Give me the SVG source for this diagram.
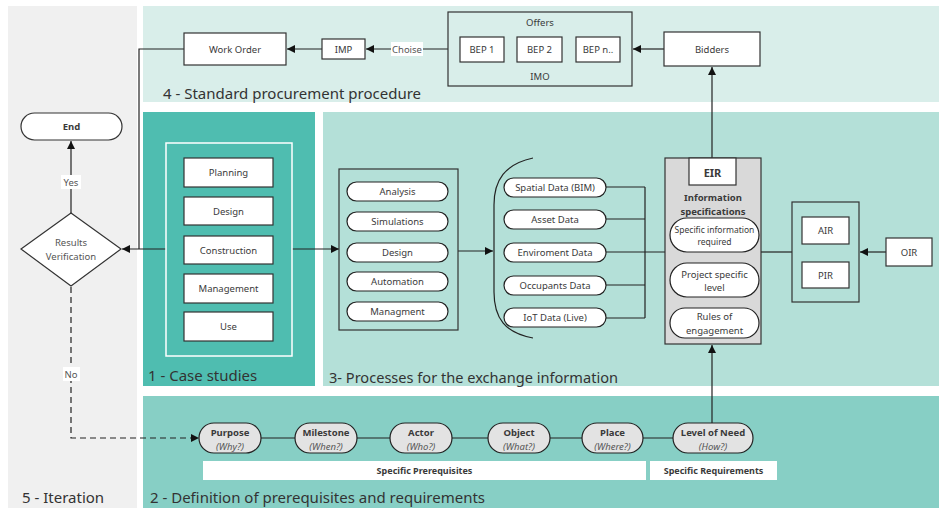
<svg xmlns="http://www.w3.org/2000/svg" width="939" height="508" viewBox="0 0 939 508">
  <defs>
    <marker id="arrow" viewBox="0 0 10 10" refX="10" refY="5" markerWidth="8" markerHeight="8" markerUnits="userSpaceOnUse" orient="auto">
      <path d="M0,0 L10,5 L0,10 z" fill="#111"/>
    </marker>
  </defs>
  <style>
    text { font-family: "Noto Sans", "Open Sans", sans-serif; fill: #3a3a3a; }
    .lbl { font-size: 9.5px; text-anchor: middle; dominant-baseline: central; }
    .b { font-weight: bold; }
    .it { font-style: italic; fill: #555; }
    .soft { fill: #555; }
    .title { font-size: 15px; fill: #333; dominant-baseline: central; }
    .box { fill: #fff; stroke: #333; stroke-width: 1.2; }
    .frame { fill: none; stroke: #333; stroke-width: 1.2; }
    .pill { fill: #fff; stroke: #222; stroke-width: 1.2; }
    .gpill { fill: #e3e3e3; stroke: #222; stroke-width: 1.2; }
    .wire { fill: none; stroke: #222; stroke-width: 1.2; }
    .dash { fill: none; stroke: #222; stroke-width: 1.2; stroke-dasharray: 6 4; }
  </style>

  <!-- background panels -->
  <rect x="0" y="0" width="939" height="508" fill="#fff"/>
  <rect id="panel-iteration" x="8" y="6" width="129" height="502" fill="#f0f0f0"/>
  <rect id="panel-procurement" x="143" y="6" width="796" height="96" fill="#d9eeea"/>
  <rect id="panel-cases" x="143" y="112" width="172" height="274" fill="#4fbdb0"/>
  <rect id="panel-processes" x="323" y="112" width="616" height="274" fill="#b4e0d8"/>
  <rect id="panel-prerequisites" x="143" y="396" width="796" height="112" fill="#87cfc5"/>

  <text class="title" x="163" y="93">4 - Standard procurement procedure</text>
  <text class="title" x="148" y="375">1 - Case studies</text>
  <text class="title" x="329" y="377" textLength="289" lengthAdjust="spacingAndGlyphs">3- Processes for the exchange information</text>
  <text class="title" x="150" y="497">2 - Definition of prerequisites and requirements</text>
  <text class="title" x="22" y="497">5 - Iteration</text>

  <!-- connectors -->
  <g id="connectors">
    <path class="wire" d="M184,49 H139 V249"/>
    <path class="wire" d="M166,249 H122" marker-end="url(#arrow)"/>
    <path class="wire" d="M292,249 H339" marker-end="url(#arrow)"/>
    <path class="wire" d="M458,251 H493" marker-end="url(#arrow)"/>
    <path class="wire" d="M606,187 H645 M606,219 H645 M606,285 H645 M606,318 H645 M645,187 V318 M606,252 H665"/>
    <path class="wire" d="M761,252 H792"/>
    <path class="wire" d="M886,252 H860" marker-end="url(#arrow)"/>
    <path class="wire" d="M712,158 V67" marker-end="url(#arrow)"/>
    <path class="wire" d="M664,49 H633" marker-end="url(#arrow)"/>
    <path class="wire" d="M448,49 H366" marker-end="url(#arrow)"/>
    <path class="wire" d="M322,49 H287" marker-end="url(#arrow)"/>
    <path class="wire" d="M71,213 V141" marker-end="url(#arrow)"/>
    <path class="dash" d="M71,287 V438 H199" marker-end="url(#arrow)"/>
    <path class="wire" d="M261,438 H295 M357,438 H390 M452,438 H488 M550,438 H582 M643,438 H673"/>
    <path class="wire" d="M712,423 V345" marker-end="url(#arrow)"/>
    <rect x="391" y="42" width="32" height="14" fill="#fff"/>
    <text class="lbl soft" x="407" y="49">Choise</text>
    <rect x="61" y="175" width="20" height="14" fill="#fff"/>
    <text class="lbl soft" x="71" y="182">Yes</text>
    <rect x="63" y="367" width="17" height="14" fill="#fff"/>
    <text class="lbl soft" x="71" y="374">No</text>
  </g>

  <!-- procurement -->
  <g id="work-order"><rect class="box" x="184" y="33" width="102" height="32"/><text class="lbl" x="235" y="49">Work Order</text></g>
  <g id="imp"><rect class="box" x="322" y="39" width="43" height="20"/><text class="lbl" x="343.5" y="49">IMP</text></g>
  <g id="offers">
    <rect class="frame" x="448" y="12" width="184" height="74"/>
    <text class="lbl" x="540" y="22">Offers</text>
    <text class="lbl" x="540" y="76">IMO</text>
    <rect class="box" x="460" y="37" width="44" height="25"/><text class="lbl" x="482" y="49.5">BEP 1</text>
    <rect class="box" x="517" y="37" width="45" height="25"/><text class="lbl" x="539.5" y="49.5">BEP 2</text>
    <rect class="box" x="576" y="37" width="44" height="25"/><text class="lbl" x="598" y="49.5">BEP n..</text>
  </g>
  <g id="bidders"><rect class="box" x="664" y="32" width="96" height="34"/><text class="lbl" x="712" y="49">Bidders</text></g>

  <!-- iteration -->
  <g id="end"><rect class="box" x="21" y="113" width="101" height="27" rx="13.5"/><text class="lbl b" x="71.5" y="126.5">End</text></g>
  <g id="verification">
    <polygon class="box" points="71,213 121,249 71,286 21,249"/>
    <text class="lbl soft" x="71" y="242">Results</text>
    <text class="lbl soft" x="71" y="256">Verification</text>
  </g>

  <!-- case studies -->
  <g id="case-studies">
    <rect x="166" y="143" width="126" height="213" fill="none" stroke="#fff" stroke-width="1.5"/>
    <rect class="box" x="184" y="158" width="89" height="29"/><text class="lbl" x="228.5" y="172.5">Planning</text>
    <rect class="box" x="184" y="197" width="89" height="28"/><text class="lbl" x="228.5" y="211">Design</text>
    <rect class="box" x="184" y="236" width="89" height="28"/><text class="lbl" x="228.5" y="250">Construction</text>
    <rect class="box" x="184" y="274" width="89" height="29"/><text class="lbl" x="228.5" y="288.5">Management</text>
    <rect class="box" x="184" y="312" width="89" height="29"/><text class="lbl" x="228.5" y="326.5">Use</text>
  </g>

  <!-- processes -->
  <g id="processes">
    <rect class="frame" x="339" y="169" width="119" height="161"/>
    <rect class="pill" x="347" y="182" width="101" height="19" rx="9.5"/><text class="lbl" x="397.5" y="191.5">Analysis</text>
    <rect class="pill" x="347" y="212" width="101" height="19" rx="9.5"/><text class="lbl" x="397.5" y="221.5">Simulations</text>
    <rect class="pill" x="347" y="243" width="101" height="19" rx="9.5"/><text class="lbl" x="397.5" y="252.5">Design</text>
    <rect class="pill" x="347" y="272" width="101" height="19" rx="9.5"/><text class="lbl" x="397.5" y="281.5">Automation</text>
    <rect class="pill" x="347" y="302" width="101" height="19" rx="9.5"/><text class="lbl" x="397.5" y="311.5">Managment</text>
  </g>

  <!-- data sources -->
  <g id="data-sources">
    <path class="wire" d="M533,158 C505,164 494,180 494,205 V292 C494,318 505,333 533,338"/>
    <rect class="pill" x="504" y="178" width="102" height="19" rx="9.5"/><text class="lbl" x="555" y="187.5">Spatial Data (BIM)</text>
    <rect class="pill" x="504" y="210" width="102" height="19" rx="9.5"/><text class="lbl" x="555" y="219.5">Asset Data</text>
    <rect class="pill" x="504" y="243" width="102" height="19" rx="9.5"/><text class="lbl" x="555" y="252.5">Enviroment Data</text>
    <rect class="pill" x="504" y="276" width="102" height="19" rx="9.5"/><text class="lbl" x="555" y="285.5">Occupants Data</text>
    <rect class="pill" x="504" y="308" width="102" height="19" rx="9.5"/><text class="lbl" x="555" y="317.5">IoT Data (Live)</text>
  </g>

  <!-- EIR -->
  <g id="eir">
    <rect x="665" y="158" width="96" height="186" fill="#d9d9d9" stroke="#333" stroke-width="1.2"/>
    <rect class="box" x="689" y="158" width="47" height="27"/><text class="lbl b" x="712.5" y="172" style="font-size:11px">EIR</text>
    <text class="lbl b" x="713" y="197">Information</text>
    <text class="lbl b" x="713" y="211">specifications</text>
    <rect class="pill" x="670" y="218" width="89" height="34" rx="17"/>
    <text class="lbl" x="714.5" y="229" style="font-size:8.5px">Specific information</text>
    <text class="lbl" x="714.5" y="241" style="font-size:8.5px">required</text>
    <rect class="pill" x="670" y="263" width="89" height="34" rx="17"/>
    <text class="lbl" x="714.5" y="274">Project specific</text>
    <text class="lbl" x="714.5" y="287">level</text>
    <rect class="pill" x="670" y="308" width="89" height="30" rx="15"/>
    <text class="lbl" x="714.5" y="316">Rules of</text>
    <text class="lbl" x="714.5" y="330">engagement</text>
  </g>

  <g id="air-pir">
    <rect class="frame" x="792" y="202" width="67" height="100"/>
    <rect class="box" x="802" y="217" width="47" height="27"/><text class="lbl" x="825.5" y="230.5">AIR</text>
    <rect class="box" x="802" y="262" width="47" height="26"/><text class="lbl" x="825.5" y="275">PIR</text>
  </g>
  <g id="oir"><rect class="box" x="886" y="238" width="46" height="28"/><text class="lbl" x="909" y="252">OIR</text></g>

  <!-- prerequisites -->
  <g id="purpose"><rect class="gpill" x="199" y="423" width="62" height="30" rx="15"/><text class="lbl b" x="230" y="432.5">Purpose</text><text class="lbl it" x="230" y="446">(Why?)</text></g>
  <g id="milestone"><rect class="gpill" x="295" y="423" width="62" height="30" rx="15"/><text class="lbl b" x="326" y="432.5">Milestone</text><text class="lbl it" x="326" y="446">(When?)</text></g>
  <g id="actor"><rect class="gpill" x="390" y="423" width="62" height="30" rx="15"/><text class="lbl b" x="421" y="432.5">Actor</text><text class="lbl it" x="421" y="446">(Who?)</text></g>
  <g id="object"><rect class="gpill" x="488" y="423" width="62" height="30" rx="15"/><text class="lbl b" x="519" y="432.5">Object</text><text class="lbl it" x="519" y="446">(What?)</text></g>
  <g id="place"><rect class="gpill" x="582" y="423" width="61" height="30" rx="15"/><text class="lbl b" x="612.5" y="432.5">Place</text><text class="lbl it" x="612.5" y="446">(Where?)</text></g>
  <g id="level-of-need"><rect class="gpill" x="673" y="423" width="80" height="30" rx="15"/><text class="lbl b" x="713" y="432.5">Level of Need</text><text class="lbl it" x="713" y="446">(How?)</text></g>

  <g id="specific-prerequisites"><rect x="203" y="461" width="443" height="19" fill="#fff"/><text class="lbl b" x="424.5" y="470.5" style="font-size:9px">Specific Prerequisites</text></g>
  <g id="specific-requirements"><rect x="650" y="461" width="127" height="19" fill="#fff"/><text class="lbl b" x="713.5" y="470.5" style="font-size:9px">Specific Requirements</text></g>
</svg>
